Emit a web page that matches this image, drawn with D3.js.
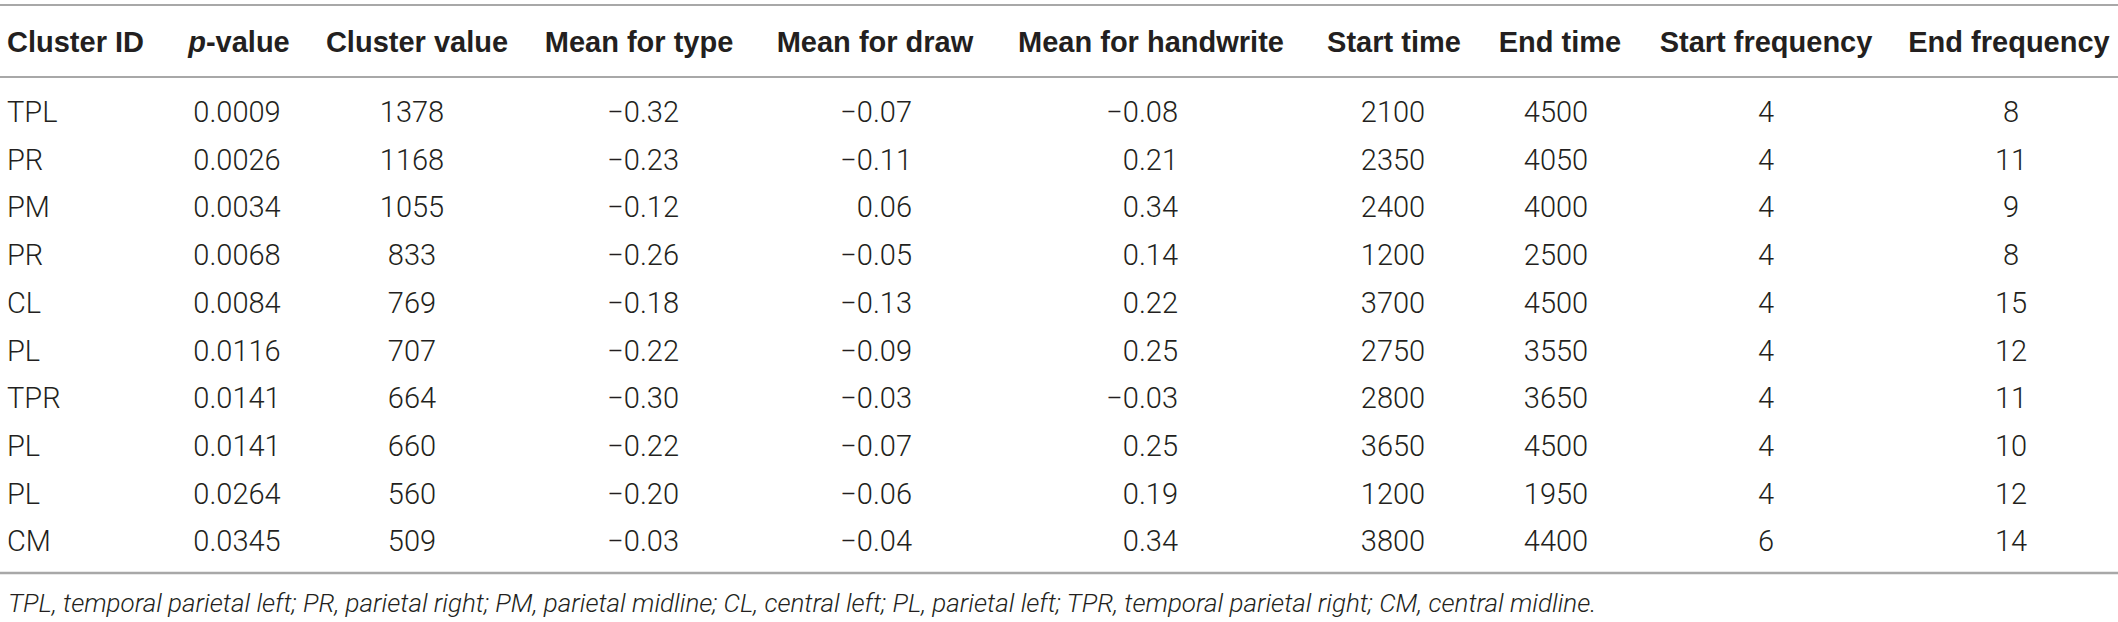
<!DOCTYPE html>
<html><head><meta charset="utf-8">
<script src="https://cdn.jsdelivr.net/npm/d3@7"></script>
<style>
html,body{margin:0;padding:0;background:#fff;}
svg{display:block;}
</style></head>
<body><svg id="chart" width="2118" height="622"></svg>
<script>
const headers = ["Cluster ID","p-value","Cluster value","Mean for type","Mean for draw","Mean for handwrite","Start time","End time","Start frequency","End frequency"];
const clusterIds = ["TPL","PR","PM","PR","CL","PL","TPR","PL","PL","CM"];
const pValues = ["0.0009","0.0026","0.0034","0.0068","0.0084","0.0116","0.0141","0.0141","0.0264","0.0345"];
const clusterValues = [1378,1168,1055,833,769,707,664,660,560,509];
const meanType = [-0.32,-0.23,-0.12,-0.26,-0.18,-0.22,-0.30,-0.22,-0.20,-0.03];
const meanDraw = [-0.07,-0.11,0.06,-0.05,-0.13,-0.09,-0.03,-0.07,-0.06,-0.04];
const meanHandwrite = [-0.08,0.21,0.34,0.14,0.22,0.25,-0.03,0.25,0.19,0.34];
const startTime = [2100,2350,2400,1200,3700,2750,2800,3650,1200,3800];
const endTime = [4500,4050,4000,2500,4500,3550,3650,4500,1950,4400];
const startFreq = [4,4,4,4,4,4,4,4,4,6];
const endFreq = [8,11,9,8,15,12,11,10,12,14];
const footnote = "TPL, temporal parietal left; PR, parietal right; PM, parietal midline; CL, central left; PL, parietal left; TPR, temporal parietal right; CM, central midline.";

const fmtMean = v => (v < 0 ? "\u2212" : "") + Math.abs(v).toFixed(2);
const columns = [
  {vals: clusterIds, fmt: d => d, align: "start"},
  {vals: pValues, fmt: d => d, align: "middle"},
  {vals: clusterValues, fmt: String, align: "middle"},
  {vals: meanType, fmt: fmtMean, align: "end"},
  {vals: meanDraw, fmt: fmtMean, align: "end"},
  {vals: meanHandwrite, fmt: fmtMean, align: "end"},
  {vals: startTime, fmt: String, align: "middle"},
  {vals: endTime, fmt: String, align: "middle"},
  {vals: startFreq, fmt: String, align: "middle"},
  {vals: endFreq, fmt: String, align: "middle"}
];
// layout: header anchors and body anchors per column
const headX = d3.scaleOrdinal().domain(d3.range(headers.length))
  .range([7, 239, 417, 639, 875, 1151, 1394, 1560, 1766, 2009]);
const bodyX = d3.scaleOrdinal().domain(d3.range(headers.length))
  .range([7, 237, 412, 679, 912, 1178, 1393, 1556, 1766, 2011]);

const svg = d3.select("#chart");
const W = 2118;
const textColor = "#231f20";
const lineColor = "#a8a8a8";

const y = d3.scaleBand().domain(d3.range(clusterIds.length)).range([88, 565]);

// rules
[[5,2],[77,2],[573,2.5]].forEach(([yy,w]) => {
  svg.append("line").attr("x1",0).attr("x2",W).attr("y1",yy).attr("y2",yy)
    .attr("stroke",lineColor).attr("stroke-width",w);
});

// headers
const hg = svg.append("g").attr("font-family","'Liberation Sans', Arial, sans-serif")
  .attr("font-weight","bold").attr("font-size",29).attr("fill",textColor);
headers.forEach((h,i) => {
  const t = hg.append("text").attr("x", headX(i)).attr("y", 52)
    .attr("text-anchor", i === 0 ? "start" : "middle");
  if (h === "p-value") {
    t.append("tspan").attr("font-style","italic").text("p");
    t.append("tspan").text("-value");
  } else t.text(h);
});

// body
const bg = svg.append("g").attr("font-family","Roboto, 'Liberation Sans', sans-serif")
  .attr("font-weight",300).attr("font-size",29).attr("fill",textColor);
columns.forEach((c,ci) => {
  bg.selectAll(null).data(c.vals).join("text")
    .attr("x", bodyX(ci))
    .attr("y", (d,i) => y(i) + 34)
    .attr("text-anchor", c.align)
    .text(c.fmt);
});

// footnote
svg.append("text").attr("x",8).attr("y",612)
  .attr("font-family","Roboto, 'Liberation Sans', sans-serif").attr("font-weight",300)
  .attr("font-style","italic").attr("font-size",26).attr("fill",textColor)
  .text(footnote);
</script></body></html>
